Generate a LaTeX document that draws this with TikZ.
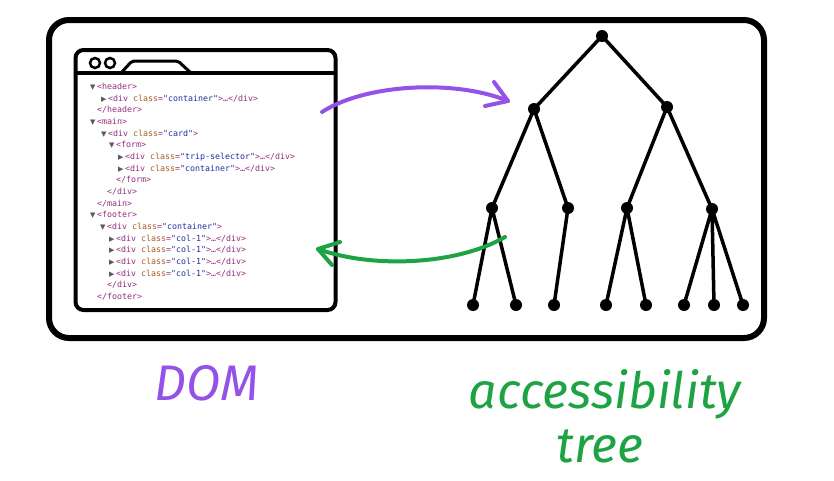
\documentclass[tikz,border=0pt]{standalone}
\usepackage{fontspec}
\newfontfamily\codefont{DejaVu Sans Mono}
\newfontfamily\symfont{DejaVu Sans}
\newfontfamily\handfont{Fira Sans}
\definecolor{domc}{RGB}{148,82,232}
\definecolor{treec}{RGB}{30,163,68}
\definecolor{tagc}{RGB}{145,45,125}
\definecolor{attc}{RGB}{165,90,30}
\definecolor{valc}{RGB}{35,45,160}
\definecolor{tric}{RGB}{90,90,90}
\newcommand\tg[1]{\textcolor{tagc}{#1}}
\newcommand\at[1]{\textcolor{attc}{#1}}
\newcommand\vl[1]{\textcolor{valc}{#1}}
\newcommand\opn{\llap{\textcolor{tric}{\symfont\fontsize{7}{7}\selectfont ▼}\hspace{1.8pt}}}
\newcommand\cls{\llap{\textcolor{tric}{\symfont\fontsize{7}{7}\selectfont ▶}\hspace{1.8pt}}}
\newcommand\dv[1]{\tg{<div }\at{class}\tg{=}\vl{"#1"}\tg{>}}
\begin{document}
\begin{tikzpicture}[x=1pt,y=-1pt,
  frame/.style={line width=6pt, rounded corners=20pt},
  win/.style={line width=4pt, rounded corners=8pt},
  code/.style={anchor=base west, inner sep=0pt, font=\codefont\fontsize{8.3}{8.3}\selectfont},
  dot/.style={circle, fill=black, inner sep=0pt, minimum size=12pt},
  edge/.style={line width=3.5pt},
  hand/.style={line width=4pt, line cap=round, line join=round},
  lbl/.style={anchor=base, inner sep=0pt, font=\handfont\itshape\fontsize{50}{50}\selectfont}
]
\useasboundingbox (0,0) rectangle (834,480);
% outer frame
\draw[frame] (49,20) rectangle (764,338);
% browser window
\draw[win] (75.5,50) rectangle (335.5,310);
\draw[line width=4pt] (75.5,73) -- (335.5,73);
\draw[line width=2.5pt] (95,63) circle (5);
\draw[line width=2.5pt] (110,63) circle (5);
\draw[line width=3pt, line join=round, rounded corners=2pt] (121,73) -- (132,61) -- (178,61) -- (191,73);
% code lines
\node[code] (c1)  at (97,89.5)  {\opn\tg{<header>}};
\node[code] (c2)  at (108,101.2) {\cls\dv{container}\tg{…</div>}};
\node[code] (c3)  at (97,112.8) {\tg{</header>}};
\node[code] (c4)  at (97,124.5) {\opn\tg{<main>}};
\node[code] (c5)  at (108,136.2) {\opn\dv{card}};
\node[code] (c6)  at (116,147.8) {\opn\tg{<form>}};
\node[code] (c7)  at (125,159.5) {\cls\dv{trip-selector}\tg{…</div>}};
\node[code] (c8)  at (125,171.2) {\cls\dv{container}\tg{…</div>}};
\node[code] (c9)  at (116,182.8) {\tg{</form>}};
\node[code] (c10) at (107,194.5) {\tg{</div>}};
\node[code] (c11) at (97,206.2) {\tg{</main>}};
\node[code] (c12) at (97,217.8) {\opn\tg{<footer>}};
\node[code] (c13) at (107,229.5) {\opn\dv{container}};
\node[code] (c14) at (116,241.2) {\cls\dv{col-1}\tg{…</div>}};
\node[code] (c15) at (116,252.8) {\cls\dv{col-1}\tg{…</div>}};
\node[code] (c16) at (116,264.5) {\cls\dv{col-1}\tg{…</div>}};
\node[code] (c17) at (116,276.2) {\cls\dv{col-1}\tg{…</div>}};
\node[code] (c18) at (107,287.8) {\tg{</div>}};
\node[code] (c19) at (97,299.5) {\tg{</footer>}};
% tree
\node[dot] (r)   at (602,36) {};
\node[dot] (a)   at (534,109) {};
\node[dot] (b)   at (667,107) {};
\node[dot] (aa)  at (492,208) {};
\node[dot] (ab)  at (568,208) {};
\node[dot] (ba)  at (627,208) {};
\node[dot] (bb)  at (712,209) {};
\node[dot] (l1)  at (473,305) {};
\node[dot] (l2)  at (516,305) {};
\node[dot] (l3)  at (554,305) {};
\node[dot] (l4)  at (606,305) {};
\node[dot] (l5)  at (646,305) {};
\node[dot] (l6)  at (684,305) {};
\node[dot] (l7)  at (714,305) {};
\node[dot] (l8)  at (743,305) {};
\draw[edge] (r.center) -- (a.center) (r.center) -- (b.center)
  (a.center) -- (aa.center) (a.center) -- (ab.center)
  (b.center) -- (ba.center) (b.center) -- (bb.center)
  (aa.center) -- (l1.center) (aa.center) -- (l2.center)
  (ab.center) -- (l3.center)
  (ba.center) -- (l4.center) (ba.center) -- (l5.center)
  (bb.center) -- (l6.center) (bb.center) -- (l7.center) (bb.center) -- (l8.center);
% arrows
\coordinate (ps) at (322,112);
\coordinate (pe) at (508,101);
\coordinate (pa1) at (494,82);
\coordinate (pa2) at (485,106);
\draw[hand, domc] (ps) .. controls (365,84) and (455,79) .. (pe);
\draw[hand, domc] (pa1) -- (pe) -- (pa2);
\coordinate (gs) at (505,237);
\coordinate (ge) at (318,249);
\coordinate (ga1) at (340,242);
\coordinate (ga2) at (332,265);
\draw[hand, treec] (gs) .. controls (455,266) and (370,268) .. (ge);
\draw[hand, treec] (ga1) -- (ge) -- (ga2);
% labels
\node[lbl, text=domc] (dom) at (207,400) {DOM};
\node[lbl, text=treec] (acc) at (605,408) {accessibility};
\node[lbl, text=treec] (tree) at (600,462) {tree};
\end{tikzpicture}
\end{document}
